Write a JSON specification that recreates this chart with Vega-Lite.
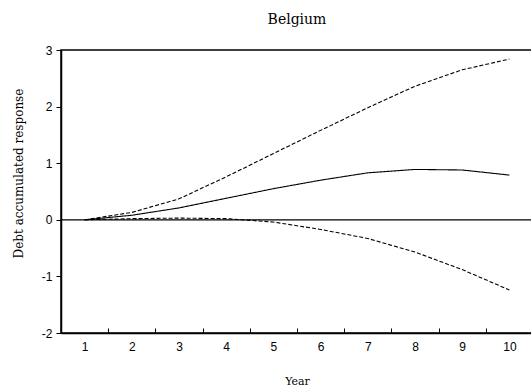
{
  "$schema": "https://vega.github.io/schema/vega-lite/v6.json",
  "autosize": "none",
  "padding": {"left": 61, "top": 50, "right": 0, "bottom": 58},
  "width": 472,
  "height": 283,
  "background": "white",
  "title": {
    "text": "Belgium",
    "font": "DejaVu Serif",
    "fontSize": 14,
    "fontWeight": "normal",
    "color": "black",
    "offset": 17,
    "anchor": "middle"
  },
  "config": {
    "view": {"stroke": "black", "strokeWidth": 1.5},
    "axis": {
      "domainColor": "black",
      "tickColor": "black",
      "labelColor": "black",
      "titleColor": "black",
      "labelFont": "Liberation Sans",
      "labelFontSize": 12,
      "titleFont": "DejaVu Serif",
      "titleFontSize": 11,
      "titleFontWeight": "normal",
      "grid": false
    }
  },
  "data": {
    "values": [
      {"year": 1, "series": "response", "value": 0.0},
      {"year": 2, "series": "response", "value": 0.08},
      {"year": 3, "series": "response", "value": 0.21},
      {"year": 4, "series": "response", "value": 0.38},
      {"year": 5, "series": "response", "value": 0.55},
      {"year": 6, "series": "response", "value": 0.70},
      {"year": 7, "series": "response", "value": 0.83},
      {"year": 8, "series": "response", "value": 0.89},
      {"year": 9, "series": "response", "value": 0.88},
      {"year": 10, "series": "response", "value": 0.79},
      {"year": 1, "series": "upper", "value": 0.0},
      {"year": 2, "series": "upper", "value": 0.13},
      {"year": 3, "series": "upper", "value": 0.37},
      {"year": 4, "series": "upper", "value": 0.76},
      {"year": 5, "series": "upper", "value": 1.17},
      {"year": 6, "series": "upper", "value": 1.58},
      {"year": 7, "series": "upper", "value": 1.98},
      {"year": 8, "series": "upper", "value": 2.36},
      {"year": 9, "series": "upper", "value": 2.65},
      {"year": 10, "series": "upper", "value": 2.84},
      {"year": 1, "series": "lower", "value": 0.0},
      {"year": 2, "series": "lower", "value": 0.02},
      {"year": 3, "series": "lower", "value": 0.03},
      {"year": 4, "series": "lower", "value": 0.02},
      {"year": 5, "series": "lower", "value": -0.04},
      {"year": 6, "series": "lower", "value": -0.17},
      {"year": 7, "series": "lower", "value": -0.33},
      {"year": 8, "series": "lower", "value": -0.57},
      {"year": 9, "series": "lower", "value": -0.88},
      {"year": 10, "series": "lower", "value": -1.24}
    ]
  },
  "layer": [
    {
      "mark": {"type": "rule", "color": "black", "strokeWidth": 1.2},
      "data": {"values": [{"zero": 0}]},
      "encoding": {
        "y": {"field": "zero", "type": "quantitative", "scale": {"domain": [-2, 3]}}
      }
    },
    {
      "mark": {"type": "line", "color": "black", "strokeWidth": 1.1},
      "encoding": {
        "x": {
          "field": "year",
          "type": "ordinal",
          "scale": {"type": "band", "paddingInner": 0, "paddingOuter": 0},
          "axis": {
            "title": "Year",
            "labelAngle": 0,
            "tickBand": "extent",
            "tickSize": -5,
            "labelPadding": 13,
            "titlePadding": 23,
            "domainWidth": 1.5
          }
        },
        "y": {
          "field": "value",
          "type": "quantitative",
          "scale": {"domain": [-2, 3], "nice": false, "zero": false},
          "axis": {
            "title": "Debt accumulated response",
            "titleFontSize": 12,
            "titleY": 123,
            "values": [-2, -1, 0, 1, 2, 3],
            "labelExpr": "datum.value < 0 ? '-' + abs(datum.value) : '' + datum.value",
            "tickSize": 5,
            "labelPadding": 4,
            "titlePadding": 16,
            "domainWidth": 1.5
          }
        },
        "detail": {"field": "series"},
        "strokeDash": {
          "field": "series",
          "type": "nominal",
          "scale": {"domain": ["response", "upper", "lower"], "range": [[1, 0], [4, 2], [4, 2]]},
          "legend": null
        }
      }
    }
  ]
}
